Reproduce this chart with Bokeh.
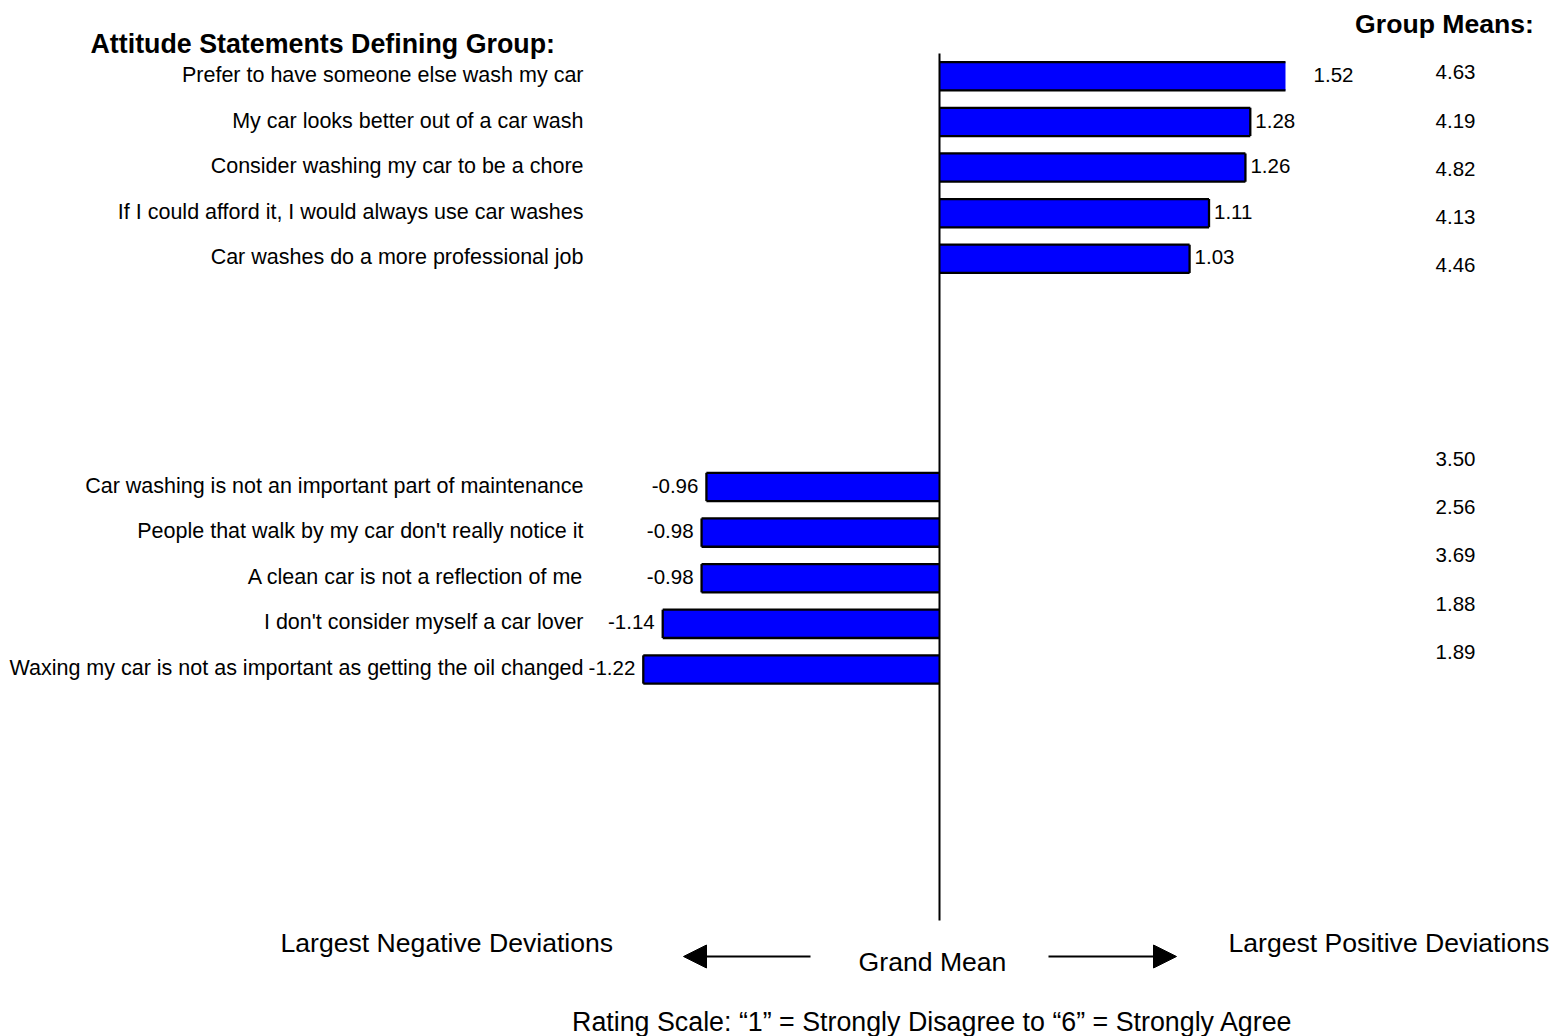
import numpy as np
from bokeh.plotting import figure
from bokeh.models import Range1d, ColumnDataSource, Arrow, NormalHead
from bokeh.core.properties import value
from bokeh.embed import file_html
from bokeh.resources import INLINE

# ---------------- data ----------------
pos_statements = [
    "Prefer to have someone else wash my car",
    "My car looks better out of a car wash",
    "Consider washing my car to be a chore",
    "If I could afford it, I would always use car washes",
    "Car washes do a more professional job",
]
pos_deviations = [1.52, 1.28, 1.26, 1.11, 1.03]

neg_statements = [
    "Car washing is not an important part of maintenance",
    "People that walk by my car don't really notice it",
    "A clean car is not a reflection of me",
    "I don't consider myself a car lover",
    "Waxing my car is not as important as getting the oil changed",
]
neg_deviations = [-0.96, -0.98, -0.98, -1.14, -1.22]

pos_group_means = [4.63, 4.19, 4.82, 4.13, 4.46]
neg_group_means = [3.50, 2.56, 3.69, 1.88, 1.89]

title_left = "Attitude Statements Defining Group:"
title_right = "Group Means:"
neg_caption = "Largest Negative Deviations"
pos_caption = "Largest Positive Deviations"
center_caption = "Grand Mean"
scale_note = "Rating Scale: \u201c1\u201d = Strongly Disagree to \u201c6\u201d = Strongly Agree"

# ---------------- layout ----------------
W, H = 1554, 1036
N_ROWS = 19
pos_rows = [0, 1, 2, 3, 4]
neg_rows = [9, 10, 11, 12, 13]
means_rows = [0, 1, 2, 3, 4, 8, 9, 10, 11, 12]
X_AXIS_MAX = 1.425  # value axis is cut here; longer bars are clipped

X0_PX = 939.0
PX_PER_UNIT = 242.8
ROW0_PX = 75.8
ROW_PX = 45.63
M_ROW0_PX = 71.7
M_ROW_PX = 48.3


def xpx(px):
    return (px - X0_PX) / PX_PER_UNIT


def ypx(py):
    return (py - ROW0_PX) / ROW_PX


FONT = value("Liberation Sans")

p = figure(width=W, height=H,
           x_range=Range1d(xpx(0), xpx(W)),
           y_range=Range1d(ypx(H), ypx(0)),
           output_backend="svg", toolbar_location=None,
           x_axis_type=None, y_axis_type=None,
           min_border=0, outline_line_color=None,
           background_fill_color="white", border_fill_color="white")
p.grid.visible = False
p.extra_y_ranges = {"means": Range1d((H - M_ROW0_PX) / M_ROW_PX, -M_ROW0_PX / M_ROW_PX)}

statements = pos_statements + neg_statements
devs = np.array(pos_deviations + neg_deviations)
rows = np.array(pos_rows + neg_rows, dtype=float)
shown = np.clip(devs, -X_AXIS_MAX, X_AXIS_MAX)
clipped = np.abs(devs) > X_AXIS_MAX
bh = 0.62

src = ColumnDataSource(dict(
    left=np.minimum(shown, 0), right=np.maximum(shown, 0),
    top=rows - bh / 2, bottom=rows + bh / 2,
))
p.quad(left="left", right="right", top="top", bottom="bottom", source=src,
       fill_color="#0000FF", line_color=None)

# bar outlines (no outer edge where the bar is clipped by the axis)
ex0, ey0, ex1, ey1 = [], [], [], []
for s, r, c in zip(shown, rows, clipped):
    for yy in (r - bh / 2, r + bh / 2):
        ex0.append(0); ex1.append(s); ey0.append(yy); ey1.append(yy)
    if not c:
        ex0.append(s); ex1.append(s); ey0.append(r - bh / 2); ey1.append(r + bh / 2)
p.segment(x0=ex0, y0=ey0, x1=ex1, y1=ey1, line_color="black", line_width=2.3)

# grand-mean axis line
p.segment(x0=[0], y0=[-0.5], x1=[0], y1=[N_ROWS - 0.5], line_color="black", line_width=2)

# statement labels
p.text(x=[xpx(583)] * len(statements), y=rows - 0.03, text=statements,
       text_align="right", text_baseline="middle", text_font=FONT,
       text_font_size="21.5px", text_color="black")

# value labels
pos_mask = devs > 0
p.text(x=devs[pos_mask], y=rows[pos_mask] - 0.03,
       text=[f"{v:.2f}" for v in devs[pos_mask]], x_offset=5,
       text_align="left", text_baseline="middle", text_font=FONT,
       text_font_size="20.5px", text_color="black")
p.text(x=devs[~pos_mask], y=rows[~pos_mask] - 0.03,
       text=[f"{v:.2f}" for v in devs[~pos_mask]], x_offset=-8,
       text_align="right", text_baseline="middle", text_font=FONT,
       text_font_size="20.5px", text_color="black")

# group means column
means = pos_group_means + neg_group_means
p.text(x=[xpx(1455)] * len(means), y=means_rows, text=[f"{v:.2f}" for v in means],
       y_range_name="means", text_align="center", text_baseline="middle",
       text_font=FONT, text_font_size="20.5px", text_color="black")

# titles
p.text(x=[xpx(90)], y=[ypx(43)], text=[title_left], text_align="left",
       text_baseline="middle", text_font=FONT, text_font_size="26.8px",
       text_font_style="bold", text_color="black")
p.text(x=[xpx(1444)], y=[ypx(23)], text=[title_right], text_align="center",
       text_baseline="middle", text_font=FONT, text_font_size="26.6px",
       text_font_style="bold", text_color="black")

# bottom captions
p.text(x=[xpx(280)], y=[ypx(942)], text=[neg_caption], text_align="left",
       text_baseline="middle", text_font=FONT, text_font_size="26.6px", text_color="black")
p.text(x=[xpx(1228)], y=[ypx(942)], text=[pos_caption], text_align="left",
       text_baseline="middle", text_font=FONT, text_font_size="26.6px", text_color="black")
p.text(x=[0], y=[ypx(961)], text=[center_caption], text_align="center",
       text_baseline="middle", text_font=FONT, text_font_size="26.6px", text_color="black",
       x_offset=-7)
p.text(x=[0], y=[ypx(1021)], text=[scale_note], text_align="center",
       text_baseline="middle", text_font=FONT, text_font_size="26.8px", text_color="black",
       x_offset=-7)

# arrows
for xs, xe in ((810, 683), (1048, 1176)):
    p.add_layout(Arrow(x_start=xpx(xs), y_start=ypx(956), x_end=xpx(xe), y_end=ypx(956),
                       line_width=2, line_color="black",
                       end=NormalHead(size=23, fill_color="black", line_color="black",
                                      line_width=1)))

open("out.html", "w").write(file_html(p, INLINE))
